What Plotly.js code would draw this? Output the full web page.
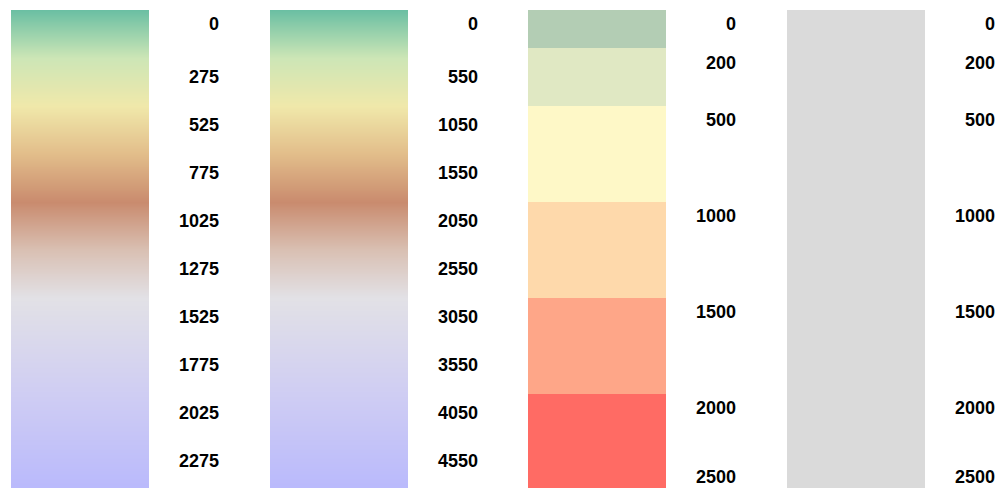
<!DOCTYPE html>
<html>
<head>
<meta charset="utf-8">
<script src="https://cdn.plot.ly/plotly-3.0.1.min.js"></script>
<style>
  html, body { margin: 0; padding: 0; overflow: hidden; background: #fff; }
  #chart { width: 1008px; height: 490px; }
</style>
</head>
<body>
<div id="chart"></div>
<script>
// ---- data ----
const gradientStops  = [0, 0.1, 0.2, 0.3, 0.4, 0.5, 0.6, 0.8, 1.0];
const gradientColors = ['#6bbfa3', '#cde6b6', '#f0e8aa', '#e2bd8a', '#c98b6e', '#d9c0b3', '#e2e1e6', '#cfcdf3', '#b9b9fc'];

const domain1 = [0, 2500];
const ticks1  = [0, 275, 525, 775, 1025, 1275, 1525, 1775, 2025, 2275];

const domain2 = [0, 5000];
const ticks2  = [0, 550, 1050, 1550, 2050, 2550, 3050, 3550, 4050, 4550];

const thresholds3 = [0, 200, 500, 1000, 1500, 2000, 2500];
const colors3     = ['#b3cdb4', '#e0e8c3', '#fef8c7', '#fed9ab', '#fea688', '#ff6b64'];

const thresholds4 = [0, 200, 500, 1000, 1500, 2000, 2500];
const color4      = '#dadada';

// ---- layout helpers ----
const W = 1008;
const barLefts = [11, 270, 528, 787];
const barWidth = 138;
const labelOffset = 208;   // from bar left to label axis line
const font = {family: 'Liberation Sans, Arial, sans-serif', size: 18, color: '#000', weight: 'bold'};
const shiftDown = -14;

const gradScale = gradientStops.map((s, i) => [s, gradientColors[i]]);

function discreteScale(cols) {
  const n = cols.length, out = [];
  cols.forEach((c, i) => { out.push([i / n, c]); out.push([(i + 1) / n, c]); });
  return out;
}

const traces = [];
const layout = {
  width: 1008, height: 490,
  margin: {l: 0, r: 0, t: 10, b: 0},
  paper_bgcolor: '#fff', plot_bgcolor: '#fff',
  showlegend: false
};

function addPanel(i, trace, yrange, tickvals) {
  const xs = i === 0 ? '' : String(i + 1);
  trace.xaxis = 'x' + xs;
  trace.yaxis = 'y' + xs;
  trace.showscale = false;
  trace.hoverinfo = 'skip';
  traces.push(trace);
  const l = barLefts[i];
  layout['xaxis' + xs] = {
    domain: [l / W, (l + barWidth) / W], range: [0, 1], visible: false, fixedrange: true
  };
  layout['yaxis' + xs] = {
    range: yrange, anchor: 'free', position: (l + labelOffset) / W, side: 'left',
    tickmode: 'array', tickvals: tickvals, ticktext: tickvals.map(String),
    showgrid: false, zeroline: false, showline: false, ticks: '',
    tickfont: font, ticklabelshift: shiftDown, ticklabeloverflow: 'allow', fixedrange: true
  };
}

// panel 1 - continuous gradient
addPanel(0, {
  type: 'heatmap', x: [0, 1], y: domain1, z: [[domain1[0]], [domain1[1]]],
  zmin: domain1[0], zmax: domain1[1], colorscale: gradScale, zsmooth: 'best'
}, [domain1[1], domain1[0]], ticks1);

// panel 2 - continuous gradient, doubled domain
addPanel(1, {
  type: 'heatmap', x: [0, 1], y: domain2, z: [[domain2[0]], [domain2[1]]],
  zmin: domain2[0], zmax: domain2[1], colorscale: gradScale, zsmooth: 'best'
}, [domain2[1], domain2[0]], ticks2);

// panel 3 - threshold bands
addPanel(2, {
  type: 'heatmap', x: [0, 1], y: thresholds3,
  z: colors3.map((c, k) => [k]), zmin: -0.5, zmax: colors3.length - 0.5,
  colorscale: discreteScale(colors3)
}, [thresholds3[thresholds3.length - 1], thresholds3[0]], thresholds3.slice(0, -1));

// panel 4 - single grey band
addPanel(3, {
  type: 'heatmap', x: [0, 1], y: [thresholds4[0], thresholds4[thresholds4.length - 1]],
  z: [[0]], zmin: 0, zmax: 1, colorscale: [[0, color4], [1, color4]]
}, [thresholds4[thresholds4.length - 1], thresholds4[0]], thresholds4.slice(0, -1));

// end labels for panels 3 and 4 (clamped to the bottom edge)
[[2, thresholds3], [3, thresholds4]].forEach(([i, th], k) => {
  const yname = 'y' + (5 + k);
  const xname = 'x' + (i + 1);
  const last = th[th.length - 1];
  traces.push({type: 'scatter', mode: 'markers', x: [], y: [], xaxis: xname, yaxis: yname, hoverinfo: 'skip'});
  layout['yaxis' + (5 + k)] = {
    overlaying: 'y' + (i + 1), range: [last, th[0]], anchor: 'free',
    position: (barLefts[i] + labelOffset) / W, side: 'left',
    tickmode: 'array', tickvals: [last], ticktext: [String(last)],
    showgrid: false, zeroline: false, showline: false, ticks: '',
    tickfont: font, ticklabelshift: 13, ticklabeloverflow: 'allow', fixedrange: true
  };
});

Plotly.newPlot('chart', traces, layout, {staticPlot: true, displayModeBar: false});
</script>
</body>
</html>
